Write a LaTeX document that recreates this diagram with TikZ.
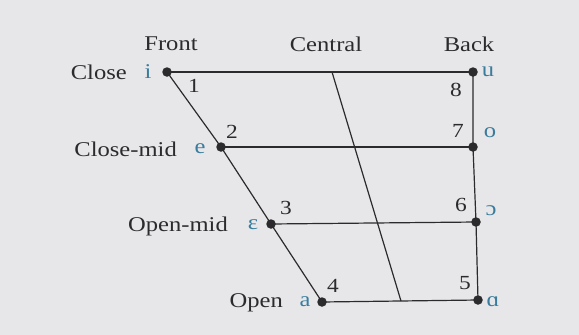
\documentclass[tikz,border=0pt]{standalone}
\usepackage{fontspec}
\setmainfont{Liberation Serif}[FakeStretch=1.17]
\definecolor{bg}{HTML}{E7E7EA}
\definecolor{ink}{HTML}{2B2B2D}
\definecolor{ipa}{HTML}{3A7C9C}
\begin{document}
\begin{tikzpicture}[x=1pt,y=-1pt,
  dot/.style={circle,fill=ink,inner sep=0pt,minimum size=9.5pt},
  lab/.style={font=\fontsize{21}{24}\selectfont,text=ink,inner sep=0pt},
  sym/.style={font=\fontsize{21}{24}\selectfont,text=ipa,inner sep=0pt},
  num/.style={font=\fontsize{20}{23}\selectfont,text=ink,inner sep=0pt},
  edge/.style={draw=ink,line width=1.2pt}]
\fill[bg] (0,0) rectangle (579,335);
\useasboundingbox (0,0) rectangle (579,335);
% dots
\node[dot] (i) at (167,72) {};
\node[dot] (u) at (473,72) {};
\node[dot] (e) at (221,147) {};
\node[dot] (o) at (473,147) {};
\node[dot] (E) at (271,224) {};
\node[dot] (O) at (476,222) {};
\node[dot] (a) at (322,302) {};
\node[dot] (A) at (478,300) {};
\coordinate (c1) at (332,72);
\coordinate (c2) at (401,301);
% lines
\draw[edge] (i.center) -- (u.center);
\draw[edge] (e.center) -- (o.center);
\draw[edge] (E.center) -- (O.center);
\draw[edge] (a.center) -- (A.center);
\draw[edge] (i.center) -- (e.center) -- (E.center) -- (a.center);
\draw[edge] (u.center) -- (o.center) -- (O.center) -- (A.center);
\draw[edge] (c1) -- (c2);
% column headers
\node[lab] (front) at (171,44) {Front};
\node[lab] (central) at (326,44) {Central};
\node[lab] (back) at (469,44) {Back};
% row labels
\node[lab,anchor=east] (close) at (127,72) {Close};
\node[lab,anchor=east] (closemid) at (177,149) {Close-mid};
\node[lab,anchor=east] (openmid) at (228,226) {Open-mid};
\node[lab,anchor=east] (open) at (283,303) {Open};
% symbols
\node[sym] (si) at (148,72) {i};
\node[sym] (se) at (200,149) {e};
\node[sym] (sE) at (253,225) {ɛ};
\node[sym] (sa) at (305,302) {a};
\node[sym] (su) at (488,72) {u};
\node[sym] (so) at (490,133) {o};
\node[sym] (sO) at (491,211) {ɔ};
\node[sym] (sA) at (493,302) {ɑ};
% numbers
\node[num] (n1) at (194,86) {1};
\node[num] (n2) at (232,132) {2};
\node[num] (n3) at (286,208) {3};
\node[num] (n4) at (333,286) {4};
\node[num] (n8) at (456,90) {8};
\node[num] (n7) at (458,131) {7};
\node[num] (n6) at (461,205) {6};
\node[num] (n5) at (465,283) {5};
\end{tikzpicture}
\end{document}
